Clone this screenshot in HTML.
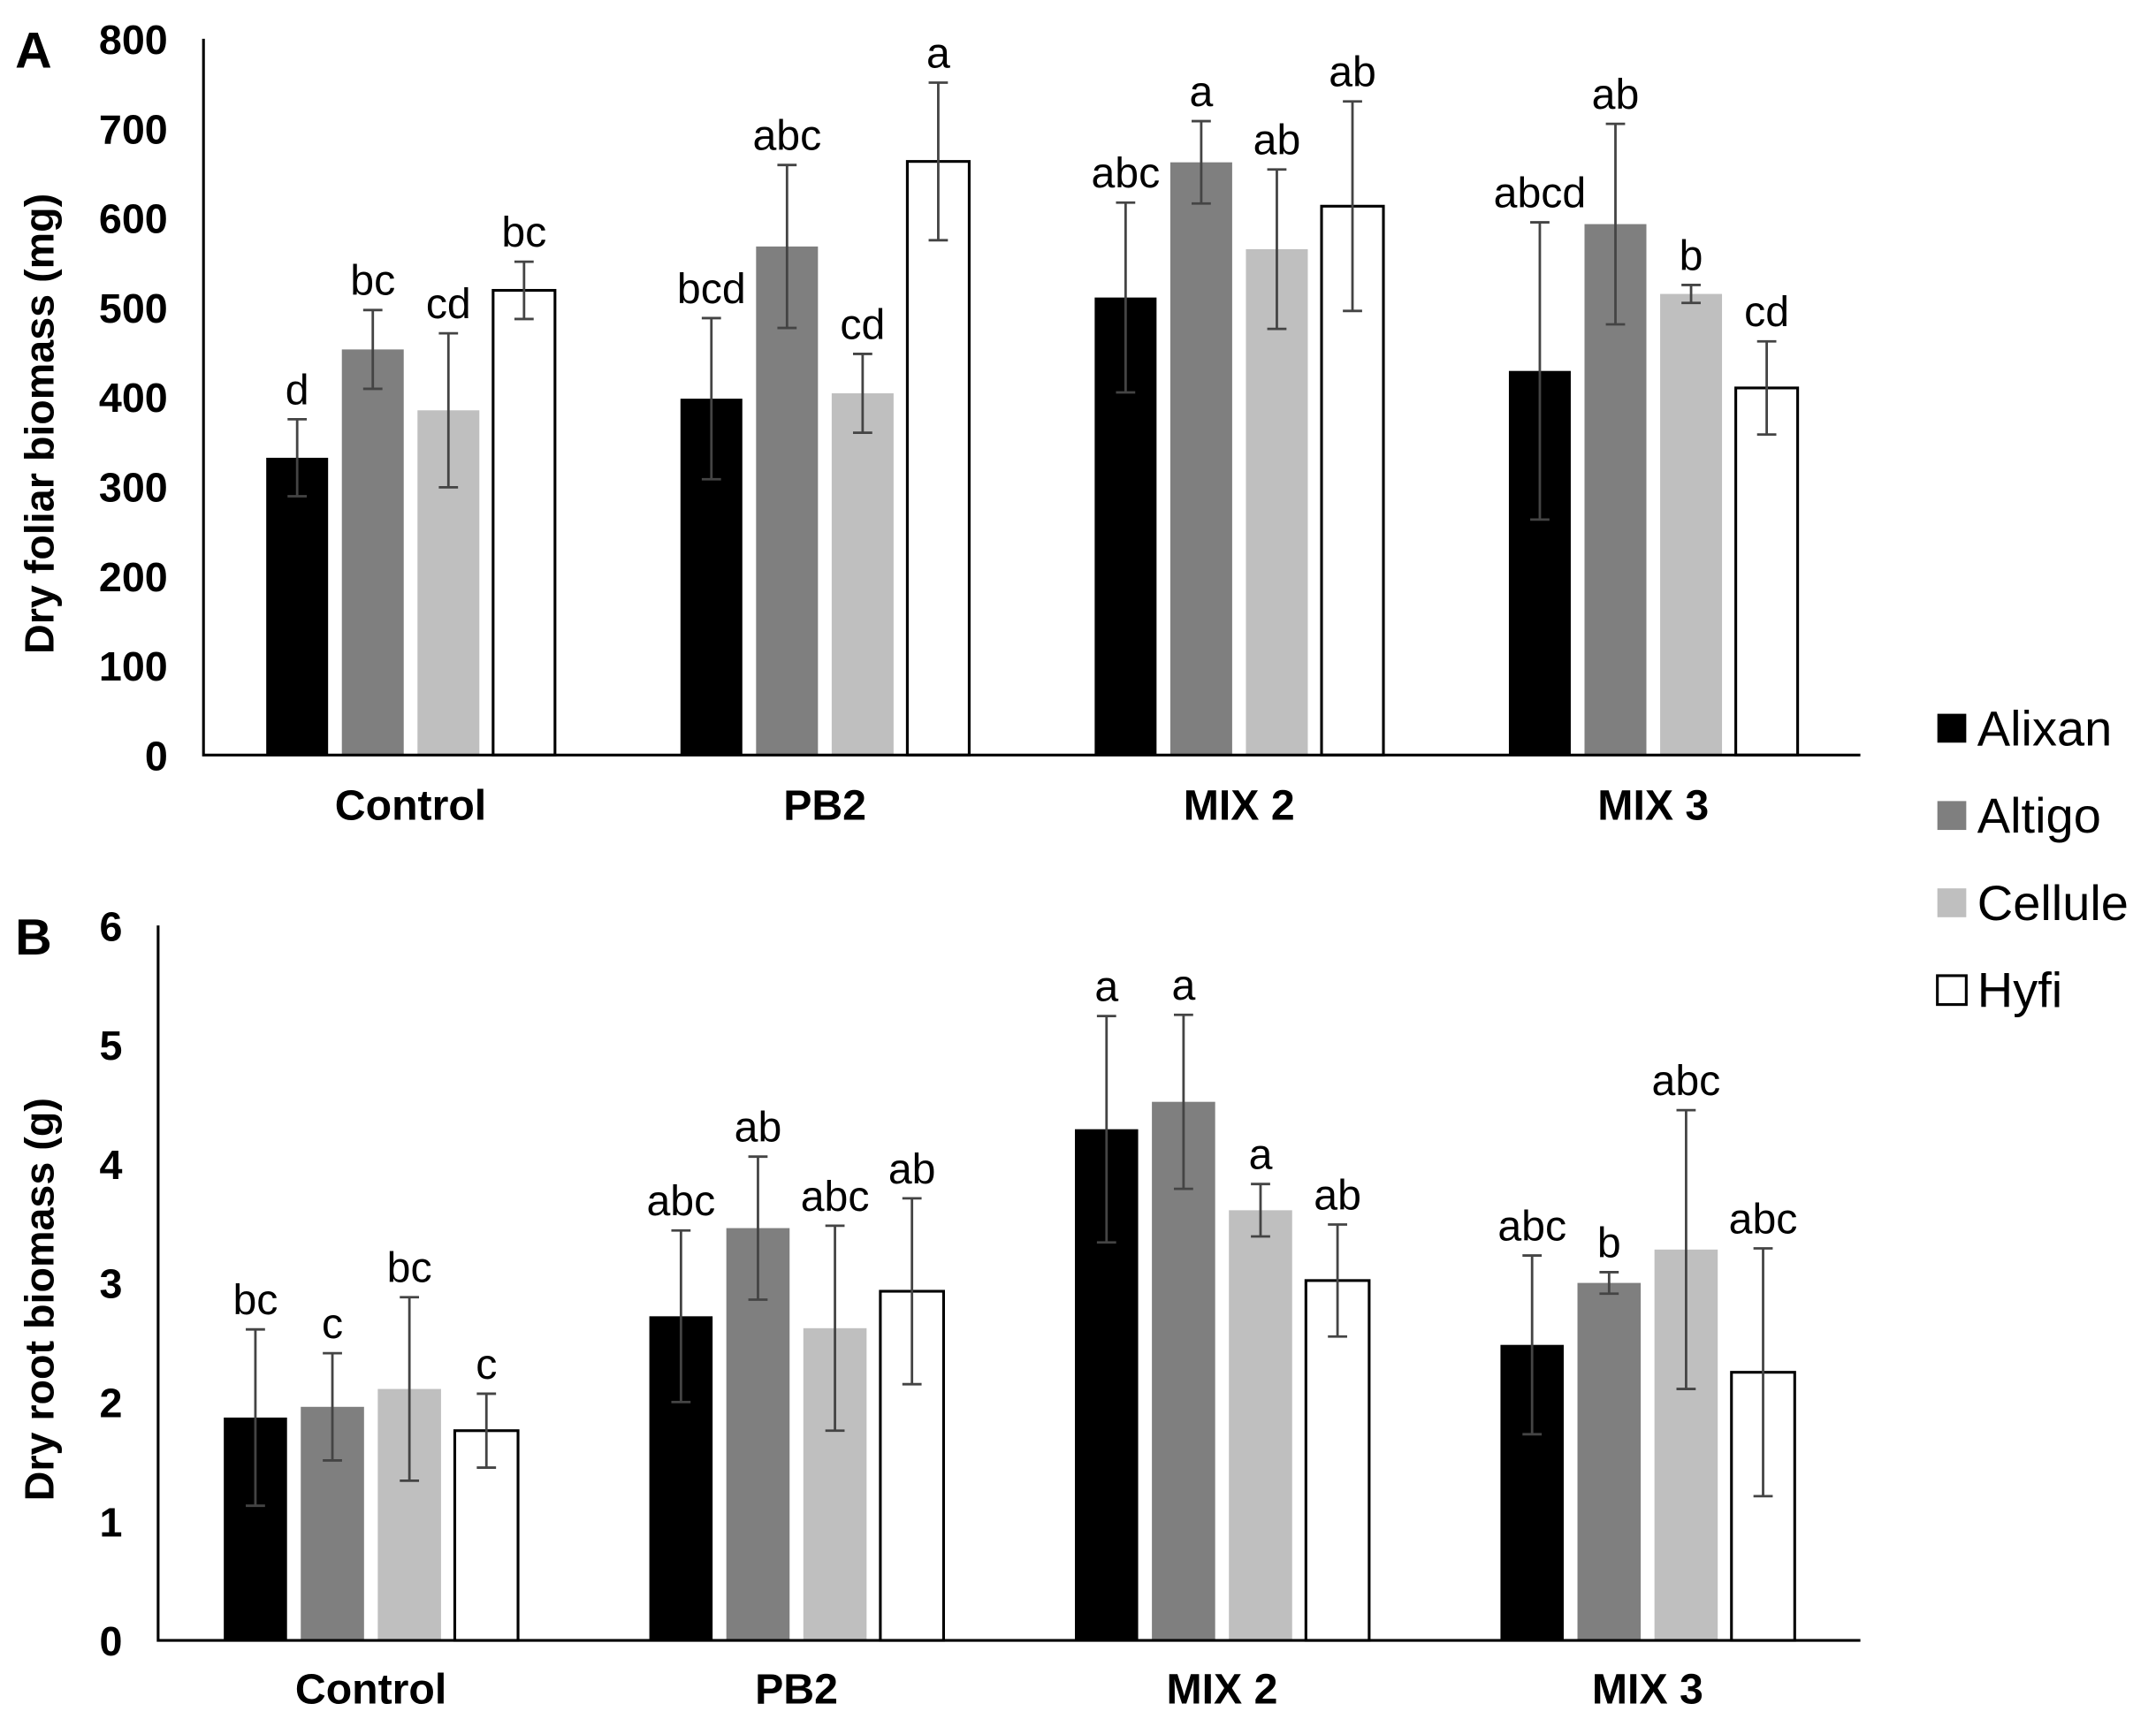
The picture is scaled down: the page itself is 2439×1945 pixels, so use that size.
<!DOCTYPE html>
<html><head><meta charset="utf-8"><style>
html,body{margin:0;padding:0;background:#fff;}
svg{display:block;}
text{font-family:"Liberation Sans",Arial,sans-serif;}
</style></head><body>
<svg id="chart" width="2439" height="1945" viewBox="0 0 1568 1250" xmlns="http://www.w3.org/2000/svg"></svg>
<script>
const categories = ["Control","PB2","MIX 2","MIX 3"];
const seriesNames = ["Alixan","Altigo","Cellule","Hyfi"];
const seriesColors = ["#000000","#7f7f7f","#bfbfbf","#ffffff"];
// Panel A: dry foliar biomass (mg)
const foliarAlixan = [332,398,511,429];
const foliarAltigo = [453,568,662,593];
const foliarCellule = [385,404,565,515];
const foliarHyfi = [519,663,613,410];
const foliarErrAlixan = [43,90,106,166];
const foliarErrAltigo = [44,91,46,112];
const foliarErrCellule = [86,44,89,10];
const foliarErrHyfi = [32,88,117,52];
const foliarLetters = [["d","bcd","abc","abcd"],["bc","abc","a","ab"],["cd","cd","ab","b"],["bc","a","ab","cd"]];
const foliarTicks = [0,100,200,300,400,500,600,700,800];
// Panel B: dry root biomass (g)
const rootAlixan = [1.87,2.72,4.29,2.48];
const rootAltigo = [1.96,3.46,4.52,3.0];
const rootCellule = [2.11,2.62,3.61,3.28];
const rootHyfi = [1.76,2.93,3.02,2.25];
const rootErrAlixan = [0.74,0.72,0.95,0.75];
const rootErrAltigo = [0.45,0.6,0.73,0.09];
const rootErrCellule = [0.77,0.86,0.22,1.17];
const rootErrHyfi = [0.31,0.78,0.47,1.04];
const rootLetters = [["bc","abc","a","abc"],["c","ab","a","b"],["bc","abc","a","abc"],["c","ab","ab","abc"]];
const rootTicks = [0,1,2,3,4,5,6];

const NS="http://www.w3.org/2000/svg";
const svg=document.getElementById('chart');
function mk(tag,attrs,parent){const e=document.createElementNS(NS,tag);for(const k in attrs)e.setAttribute(k,attrs[k]);(parent||svg).appendChild(e);return e;}

function panel(p){
  const g=mk('g',{});
  
  
  const yS=v=>p.y0-(v-p.min)/(p.max-p.min)*(p.y0-p.yTop);
  const gw=(p.x1-p.x0)/categories.length;
  const offs=[-1.5,-0.5,0.5,1.5];
  p.ticks.forEach(t=>{
    const tx=mk('text',{x:p.x0-26,y:yS(t)+11,'text-anchor':'end','font-size':30,'font-weight':'bold',fill:'#000'},g);
    tx.textContent=t;
    
    
  });
  const vals=p.vals, errs=p.errs;
  categories.forEach((c,i)=>{
    const cx=p.x0+gw*(i+0.5);
    for(let s=0;s<4;s++){
      const bx=cx+offs[s]*p.step-p.bw/2;
      const v=vals[s][i], e=errs[s][i];
      const r=mk('rect',{x:bx,y:yS(v),width:p.bw,height:p.y0-yS(v),fill:seriesColors[s],stroke:s==3?'#000':'none','stroke-width':2},g);
      
      
      const ex=cx+offs[s]*p.step;
      const eg=mk('g',{stroke:'#444','stroke-width':1.8},g);
      
      
      mk('line',{x1:ex,x2:ex,y1:yS(v+e),y2:yS(v-e)},eg);
      mk('line',{x1:ex-7,x2:ex+7,y1:yS(v+e),y2:yS(v+e)},eg);
      mk('line',{x1:ex-7,x2:ex+7,y1:yS(v-e),y2:yS(v-e)},eg);
      const lt=mk('text',{x:ex,y:yS(v+e)-11,'text-anchor':'middle','font-size':31,fill:'#000'},g);
      lt.textContent=p.letters[s][i];
      
      
    }
    const cl=mk('text',{x:cx,y:p.catY,'text-anchor':'middle','font-size':31,'font-weight':'bold',fill:'#000'},g);
    cl.textContent=c;
    
    
  });
  const ax=mk('path',{d:`M${p.x0} ${p.yTop}V${p.y0}H${p.x1}`,fill:'none',stroke:'#000','stroke-width':2},g);
  
  
  const yt=mk('text',{x:0,y:0,transform:`translate(${p.titleX},${p.titleY}) rotate(-90)`,'text-anchor':'middle','font-size':30,'font-weight':'bold',fill:'#000'},g);
  yt.textContent=p.title;
  
  
  const pl=mk('text',{x:11,y:p.labelY,'font-size':37,'font-weight':'bold',fill:'#000'},g);
  pl.textContent=p.label;
  
  
}
panel({name:'panel-a-foliar',x0:148,x1:1353,y0:549,yTop:28,min:0,max:800,ticks:foliarTicks,
  vals:[foliarAlixan,foliarAltigo,foliarCellule,foliarHyfi],errs:[foliarErrAlixan,foliarErrAltigo,foliarErrCellule,foliarErrHyfi],
  letters:foliarLetters,step:55,bw:45,catY:596,title:'Dry foliar biomass (mg)',titleX:39,titleY:308,label:'A',labelY:49});
panel({name:'panel-b-root',x0:115,x1:1353,y0:1193,yTop:673,min:0,max:6,ticks:rootTicks,
  vals:[rootAlixan,rootAltigo,rootCellule,rootHyfi],errs:[rootErrAlixan,rootErrAltigo,rootErrCellule,rootErrHyfi],
  letters:rootLetters,step:56,bw:46,catY:1239,title:'Dry root biomass (g)',titleX:39,titleY:945,label:'B',labelY:694});
const lg=mk('g',{});


seriesNames.forEach((n,i)=>{
  const y=530+i*63.5;
  const it=mk('g',{},lg);
  
  
  mk('rect',{x:1409,y:y-11,width:21,height:21,fill:seriesColors[i],stroke:i==3?'#000':'none','stroke-width':2},it);
  const t=mk('text',{x:1438,y:y+12,'font-size':36,fill:'#000'},it);
  t.textContent=n;
});
</script>
</body></html>
